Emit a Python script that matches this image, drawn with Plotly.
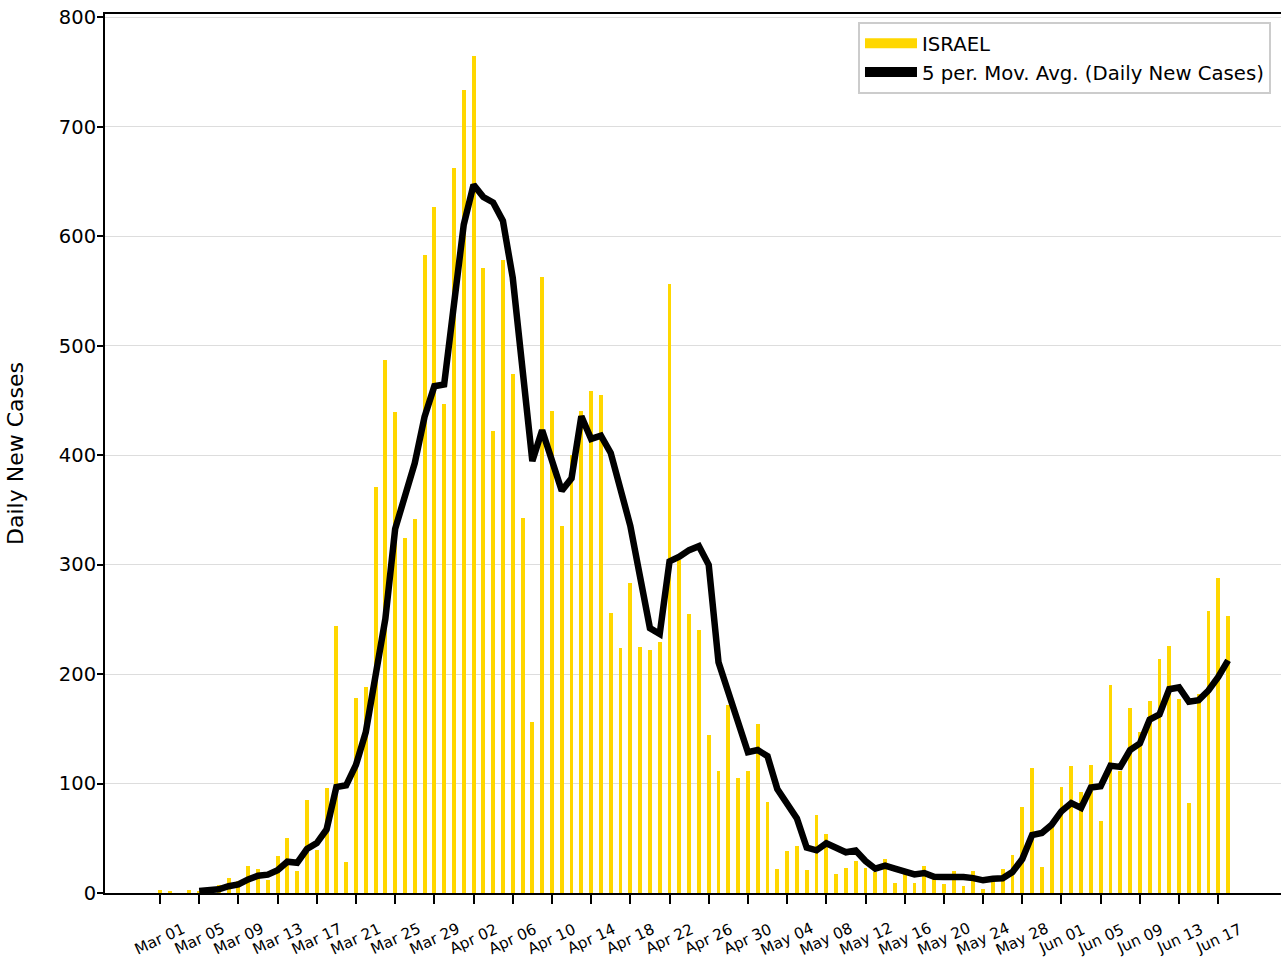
import pandas as pd
import plotly.graph_objects as go

# ---- data ----
start_date = "2020-03-01"
end_date = "2020-06-18"

daily_new_cases = [
    3, 1, 0, 3, 2, 5, 7, 14, 11, 25, 22, 12, 34, 50, 20, 85, 39, 96, 244, 28,      # Mar 01-20
    178, 188, 371, 487, 439, 324, 342, 583, 627, 447, 662,                          # Mar 21-31
    734, 765, 571, 422, 578, 474, 343, 156, 563, 440, 335, 400, 440, 459, 455,      # Apr 01-15
    256, 224, 283, 225, 222, 229, 556, 304, 255, 240, 144, 111, 172, 105, 111,      # Apr 16-30
    154, 83, 22, 38, 43, 21, 71, 54, 17, 23, 29, 23, 19, 31, 9,                     # May 01-15
    17, 9, 25, 14, 8, 20, 6, 20, 4, 15, 22, 35, 79, 114, 24, 60,                    # May 16-31
    97, 116, 92, 117, 66, 190, 111, 169, 147, 175, 214, 226, 177, 82, 182,          # Jun 01-15
    258, 288, 253,                                                                  # Jun 16-18
]

# 5-period moving average, Mar 05 - Jun 18
moving_avg = [
    1.8, 2.2, 3.4, 6.2, 7.8, 12.4, 15.8, 16.8, 20.8, 28.6, 27.6, 40.2, 45.6, 58.0,
    96.8, 98.4, 117.0, 146.8, 201.8, 250.4, 332.6, 361.8, 392.6, 435.0, 463.0,
    464.6, 532.2, 610.6, 647.0, 635.8, 630.8, 614.0, 562.0, 477.6, 394.6, 422.8,
    395.2, 367.4, 378.8, 435.6, 414.8, 417.8, 402.0, 366.8, 335.4, 288.6, 242.0,
    236.6, 303.0, 307.2, 313.2, 316.8, 299.8, 210.8, 184.4, 154.4, 128.6, 130.6,
    125.0, 95.0, 81.6, 68.0, 41.4, 39.0, 45.4, 41.2, 37.2, 38.8, 29.2, 22.2, 25.0,
    22.2, 19.8, 17.0, 18.2, 14.8, 14.6, 15.2, 14.6, 13.6, 11.6, 13.0, 13.4, 19.2,
    31.0, 53.0, 54.8, 62.4, 74.8, 82.2, 77.8, 96.4, 97.6, 116.2, 115.2, 130.6,
    136.6, 158.4, 163.2, 186.2, 187.8, 174.8, 176.2, 185.0, 197.4, 212.6,
]

tick_dates = [
    "2020-03-01", "2020-03-05", "2020-03-09", "2020-03-13", "2020-03-17", "2020-03-21",
    "2020-03-25", "2020-03-29", "2020-04-02", "2020-04-06", "2020-04-10", "2020-04-14",
    "2020-04-18", "2020-04-22", "2020-04-26", "2020-04-30", "2020-05-04", "2020-05-08",
    "2020-05-12", "2020-05-16", "2020-05-20", "2020-05-24", "2020-05-28", "2020-06-01",
    "2020-06-05", "2020-06-09", "2020-06-13", "2020-06-17",
]
tick_labels = [
    "Mar 01", "Mar 05", "Mar 09", "Mar 13", "Mar 17", "Mar 21", "Mar 25", "Mar 29",
    "Apr 02", "Apr 06", "Apr 10", "Apr 14", "Apr 18", "Apr 22", "Apr 26", "Apr 30",
    "May 04", "May 08", "May 12", "May 16", "May 20", "May 24", "May 28", "Jun 01",
    "Jun 05", "Jun 09", "Jun 13", "Jun 17",
]
y_ticks = [0, 100, 200, 300, 400, 500, 600, 700, 800]

country_name = "ISRAEL"
avg_name = "5 per. Mov. Avg. (Daily New Cases)"
y_title = "Daily New Cases"

bar_color = "#FFD700"
avg_color = "black"

# ---- figure ----
dates = pd.date_range(start_date, end_date, freq="D")
FONT = "DejaVu Sans"
DAY_MS = 86400000

fig = go.Figure()
fig.add_trace(go.Bar(
    x=dates, y=daily_new_cases, name=country_name, showlegend=False,
    marker=dict(color=bar_color, line=dict(width=0)),
    width=0.4 * DAY_MS,
))
fig.add_trace(go.Scatter(
    x=dates[4:], y=moving_avg, name=avg_name, mode="lines", showlegend=False,
    line=dict(color=avg_color, width=6.5),
))
# legend entries drawn as wide colour swatches (like the reference's patch handles)
for nm, col in [(country_name, bar_color), (avg_name, avg_color)]:
    fig.add_trace(go.Scatter(
        x=[None], y=[None], name=nm, mode="lines",
        line=dict(color=col, width=14), showlegend=True, hoverinfo="skip",
    ))

annotations = [
    dict(x=d, y=-0.052, xref="x", yref="paper", text=t, showarrow=False,
         textangle=-25, xanchor="center", yanchor="middle",
         font=dict(family=FONT, size=15.3, color="black"))
    for d, t in zip(tick_dates, tick_labels)
]

fig.update_layout(
    width=1281, height=964,
    margin=dict(l=105, r=0, t=14, b=71, autoexpand=False),
    plot_bgcolor="white", paper_bgcolor="white",
    font=dict(family=FONT, color="black"),
    showlegend=True,
    legend=dict(
        x=0.6403, xanchor="left", y=0.9909, yanchor="top",
        bgcolor="white", bordercolor="#cccccc", borderwidth=2,
        font=dict(family=FONT, size=19.7, color="black"),
        itemwidth=52, tracegroupgap=0,
    ),
    annotations=annotations,
    bargap=0,
)
fig.update_xaxes(
    type="date", automargin=False,
    range=["2020-02-24 09:20", "2020-06-23 09:40"],
    showgrid=False, zeroline=False,
    showline=True, linecolor="black", linewidth=2, mirror=True,
    tickmode="array", tickvals=tick_dates, showticklabels=False,
    ticks="outside", ticklen=9, tickwidth=2, tickcolor="black",
)
fig.update_yaxes(
    automargin=False,
    range=[0, 803],
    tickmode="array", tickvals=y_ticks,
    showgrid=True, gridcolor="#dddddd", gridwidth=1, zeroline=False,
    showline=True, linecolor="black", linewidth=2,
    ticks="outside", ticklen=6, tickwidth=2, tickcolor="black",
    ticklabelstandoff=-3, ticklabeloverflow="allow",
    tickfont=dict(family=FONT, size=19.5, color="black"),
    title=dict(text=y_title, font=dict(family=FONT, size=22, color="black"), standoff=29),
)

# remove the page's default body margin so the figure sits at the window's corner
fig.write_html(
    "out.html",
    config={"displayModeBar": False},
    post_script="document.body.style.margin='0px';",
)
